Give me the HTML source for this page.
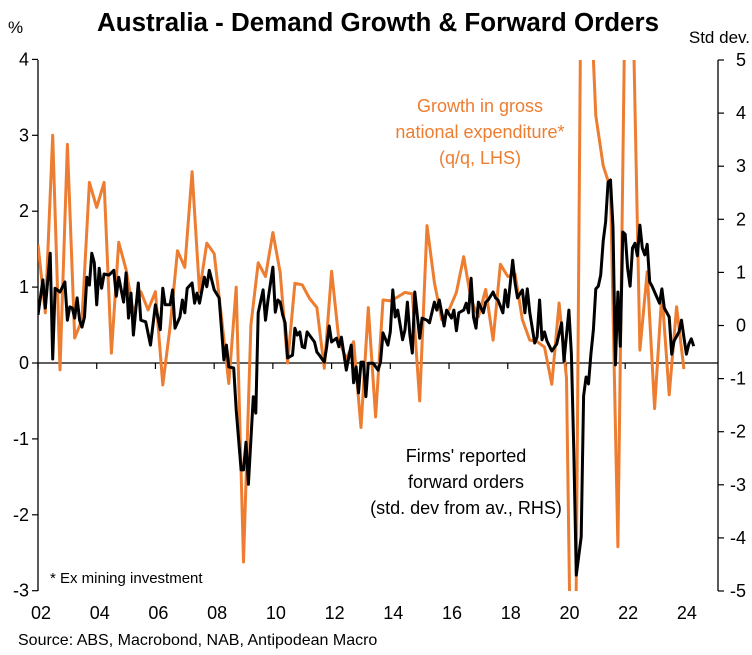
<!DOCTYPE html>
<html><head><meta charset="utf-8">
<style>
html,body{margin:0;padding:0;background:#fff;width:752px;height:655px;overflow:hidden;}
body{font-family:"Liberation Sans",sans-serif;position:relative;}
svg{display:block;position:absolute;left:0;top:0;}
svg text{font-family:"Liberation Sans",sans-serif;}
</style></head>
<body>
<svg id="chart" width="752" height="655" viewBox="0 0 752 655" xmlns="http://www.w3.org/2000/svg">
<defs><clipPath id="plotclip"><rect x="38" y="60" width="680" height="531"/></clipPath></defs>
<text x="378" y="31" text-anchor="middle" font-size="25.5" font-weight="bold" fill="#000" textLength="562" lengthAdjust="spacingAndGlyphs">Australia - Demand Growth &amp; Forward Orders</text>
<text x="8" y="33" font-size="17" fill="#000">%</text>
<text x="750" y="43" text-anchor="end" font-size="17" fill="#000">Std dev.</text>
<g id="axes"></g>
<g id="series" clip-path="url(#plotclip)"></g>
<text text-anchor="middle" font-size="18" fill="#ED7D31"><tspan x="480" y="112">Growth in gross</tspan><tspan x="480" y="138">national expenditure*</tspan><tspan x="480" y="164">(q/q, LHS)</tspan></text>
<text text-anchor="middle" font-size="18" fill="#000"><tspan x="466" y="462">Firms' reported</tspan><tspan x="466" y="488">forward orders</tspan><tspan x="466" y="514">(std. dev from av., RHS)</tspan></text>
<text x="50" y="583" font-size="15" fill="#000">* Ex mining investment</text>
<text x="18" y="645" font-size="16" fill="#000">Source: ABS, Macrobond, NAB, Antipodean Macro</text>
</svg>
<script>
const leftTicks = [4,3,2,1,0,-1,-2,-3];
const rightTicks = [5,4,3,2,1,0,-1,-2,-3,-4,-5];
const yearTicks = [2002,2004,2006,2008,2010,2012,2014,2016,2018,2020,2022,2024];
const yearLabels = ["02","04","06","08","10","12","14","16","18","20","22","24"];
// GNE growth q/q %, quarterly from 2002Q1
const gneStartYear = 2002;
const gneValues = [1.56,0.66,3.0,-0.09,2.88,0.33,0.57,2.38,2.05,2.38,0.13,1.59,1.23,0.66,0.94,0.70,0.94,-0.29,0.48,1.48,1.26,2.52,0.94,1.58,1.44,0.6,-0.27,1.0,-2.62,0.5,1.32,1.14,1.72,1.19,0,1.05,1.03,0.85,0.73,-0.07,1.21,0.3,0.05,0.28,-0.85,0.73,-0.71,0.83,0.82,0.87,0.93,0.91,-0.5,1.81,1.06,0.57,0.7,0.93,1.40,0.83,0.61,0.97,0.3,1.30,1.14,1.17,0.57,0.3,0.28,0.21,-0.28,0.79,-0.2,-7.0,5.5,5.5,3.26,2.6,2.3,-2.42,5.0,5.0,0.17,1.2,-0.6,0.93,-0.42,0.74,-0.08];
// Forward orders (std dev), months since Jan 2002
const ordersMonths = [0,2,3,5,6,7,9,11,12,13,14,15,16,17,18,19,20,21,22,23,24,25,26,27,29,31,32,33,35,36,37,38,39,41,42,44,46,48,50,51,52,54,55,56,58,59,60,61,63,64,65,66,68,69,70,72,74,76,77,78,80,81,83,84,85,86,88,89,90,92,93,94,96,97,98,99,100,101,102,104,105,106,107,108,109,110,113,114,115,117,118,119,120,122,123,124,126,128,129,130,131,132,133,134,135,137,139,140,141,143,144,145,146,147,149,150,151,152,153,154,156,157,159,160,162,163,164,165,166,167,169,170,171,172,174,175,176,177,178,179,180,182,183,184,186,187,188,190,191,192,194,195,196,198,199,200,201,203,204,205,206,207,208,210,212,214,215,217,218,219,220,222,223,224,225,226,227,228,229,230,231,232,233,234,235,236,237,238,239,240,241,242,243,244,245,246,247,248,249,250,251,252,254,255,256,258,259,260,262,263,264,265,266,267,268];
const ordersValues = [0.2,0.86,0.33,1.36,-0.63,0.7,0.63,0.82,0.1,0.35,0.33,0.14,0.52,0.1,-0.03,0.16,0.91,0.76,1.36,1.18,0.39,1.08,0.7,0.97,0.95,1.04,0.55,0.91,0.44,0.99,0.14,0.61,-0.18,0.8,0.1,0.07,-0.37,0.39,-0.08,0.7,0.39,0.39,0.67,-0.05,0.16,0.48,0.24,0.7,0.8,0.42,0.61,0.42,0.91,0.73,1.04,0.67,0.52,-0.65,-0.37,-0.78,-0.8,-1.59,-2.72,-2.72,-2.2,-2.99,-1.34,-1.65,0.24,0.67,0.1,0.48,1.1,0.25,0.48,0.44,0.2,0.05,-0.61,-0.56,-0.05,-0.18,-0.12,-0.4,-0.42,-0.12,-0.31,-0.5,-0.56,-0.69,-0.4,-0.01,-0.31,-0.24,-0.4,-0.22,-0.84,-0.37,-1.08,-0.78,-1.27,-0.69,-0.69,-1.34,-0.71,-0.71,-0.84,-0.69,-0.14,-0.37,-0.12,0.67,0.16,0.29,-0.27,-0.08,0.44,-0.18,-0.52,0.63,-0.24,0.14,0.1,0.05,0.44,0.29,0.48,0.24,-0.01,0.29,0.14,0.29,-0.1,0.24,0.29,0.42,0.24,0.89,0.16,-0.05,0.44,0.24,0.44,0.48,0.63,0.52,0.48,0.24,0.67,0.35,1.23,0.8,0.52,0.67,0.24,0.69,0.24,-0.33,-0.22,0.48,-0.27,-0.12,-0.29,-0.48,-0.35,0.05,-0.67,0.29,-0.54,-2.36,-4.7,-3.98,-1.33,-0.97,-1.1,-0.54,-0.08,0.69,0.74,0.95,1.59,1.95,2.7,2.74,1.85,-0.74,0.63,-0.39,1.76,1.72,1.08,0.74,1.46,1.55,1.31,1.89,1.46,1.33,1.53,0.82,0.74,0.63,0.42,0.69,0.33,0.16,-0.54,-0.29,-0.12,0.1,-0.22,-0.54,-0.35,-0.25,-0.39];

const NS='http://www.w3.org/2000/svg';
const X0=38, PX_PER_YEAR=29.36;
function xScale(t){return X0+(t-2002)*PX_PER_YEAR;}
function yLeft(v){return 363-v*75.9;}
function yRight(v){return 325.5-v*53.1;}
function mk(tag,attrs,parent){const e=document.createElementNS(NS,tag);for(const k in attrs)e.setAttribute(k,attrs[k]);parent.appendChild(e);return e;}
const axes=document.getElementById('axes');
const series=document.getElementById('series');

let el=mk('line',{x1:38,y1:60,x2:38,y2:591,stroke:'#000','stroke-width':1.3},axes);


el=mk('line',{x1:718,y1:60,x2:718,y2:591,stroke:'#000','stroke-width':1.3},axes);


el=mk('line',{x1:38,y1:363,x2:718,y2:363,stroke:'#000','stroke-width':1.3},axes);



leftTicks.forEach(v=>{
  const y=yLeft(v);
  let t=mk('line',{x1:32,y1:y,x2:38,y2:y,stroke:'#000','stroke-width':1.2},axes);
  
  
  let l=mk('text',{x:29,y:y+6,'text-anchor':'end','font-size':18,fill:'#000'},axes);
  l.textContent=String(v);
  
  
});
rightTicks.forEach(v=>{
  const y=yRight(v);
  let t=mk('line',{x1:718,y1:y,x2:724,y2:y,stroke:'#000','stroke-width':1.2},axes);
  
  
  let l=mk('text',{x:746,y:y+6,'text-anchor':'end','font-size':18,fill:'#000'},axes);
  l.textContent=String(v);
  
  
});
yearTicks.forEach((yr,i)=>{
  const x=xScale(yr);
  let t=mk('line',{x1:x,y1:363,x2:x,y2:369,stroke:'#000','stroke-width':1.2},axes);
  
  
  let l=mk('text',{x:x+3,y:619,'text-anchor':'middle','font-size':18,fill:'#000'},axes);
  l.textContent=yearLabels[i];
  
  
});

const gnePts=gneValues.map((v,i)=>xScale(gneStartYear+i/4).toFixed(1)+','+yLeft(v).toFixed(1)).join(' ');
const gneLine=mk('polyline',{points:gnePts,fill:'none',stroke:'#ED7D31','stroke-width':3,'stroke-linejoin':'round'},series);



const ordPts=ordersValues.map((v,i)=>xScale(2002+ordersMonths[i]/12).toFixed(1)+','+yRight(v).toFixed(1)).join(' ');
const ordLine=mk('polyline',{points:ordPts,fill:'none',stroke:'#000','stroke-width':3,'stroke-linejoin':'round'},series);


</script>
</body></html>
